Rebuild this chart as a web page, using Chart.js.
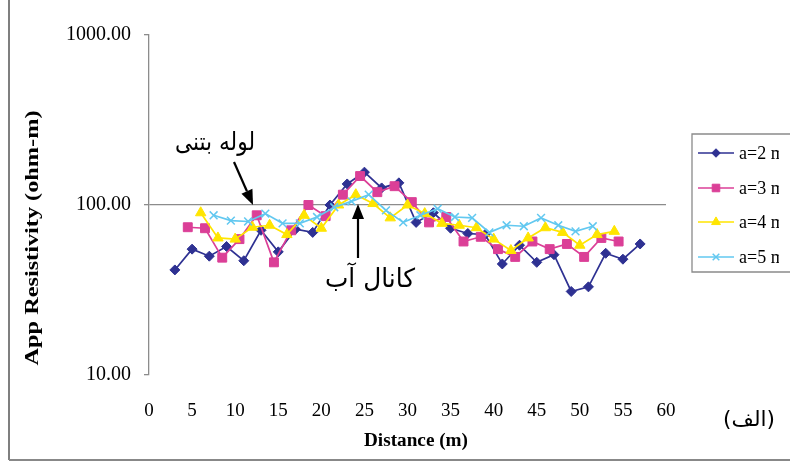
<!DOCTYPE html>
<html><head><meta charset="utf-8">
<script src="https://cdn.jsdelivr.net/npm/chart.js@4/dist/chart.umd.min.js"></script>
<style>html,body{margin:0;padding:0;background:#fff;overflow:hidden}#wrap{width:790px;height:465px;position:relative}</style>
</head><body><div id="wrap"><canvas id="c" width="790" height="465"></canvas></div>
<script>
// ---- data ----
const seriesNames = ['a=2 m', 'a=3 m', 'a=4 m', 'a=5 m'];
const xA2 = [3,5,7,9,11,13,15,17,19,21,23,25,27,29,31,33,35,37,39,41,43,45,47,49,51,53,55,57];
const yA2 = [41.5,55,50,57,47,71,53,72,69,100,133,156,126,135,79,90,73,68,67,45,58,46,51,31,33,52,48,59];
const xA3 = [4.5,6.5,8.5,10.5,12.5,14.5,16.5,18.5,20.5,22.5,24.5,26.5,28.5,30.5,32.5,34.5,36.5,38.5,40.5,42.5,44.5,46.5,48.5,50.5,52.5,54.5];
const yA3 = [74,73,49,63,87,46,71,100,86,115,148,119,129,104,79,85,61,65,55,49.5,61,55,59,49.5,64,61];
const xA4 = [6,8,10,12,14,16,18,20,22,24,26,28,30,32,34,36,38,40,42,44,46,48,50,52,54];
const yA4 = [90,64,63,74,76,67,87,73,100,115,102,84,100,89,78,76,73.5,63,54,64,73.5,69,58,67,70];
const xA5 = [7.5,9.5,11.5,13.5,15.5,17.5,19.5,21.5,23.5,25.5,27.5,29.5,31.5,33.5,35.5,37.5,39.5,41.5,43.5,45.5,47.5,49.5,51.5];
const yA5 = [87,81,80,89,78,78,85,97,105,115,93,79,87,95,85,84,69,76,75,84,76,70,75];
const yTickValues = [10, 100, 1000];
const xAxisTitle = 'Distance (m)';
const yAxisTitle = 'App Resistivity (ohm-m)';
const noteConcretePipe = 'لوله بتنی';
const noteWaterChannel = 'کانال آب';
const panelLabel = '(الف)';

const pts = (xs, ys) => xs.map((x, i) => ({x: x, y: ys[i]}));
const styles = [
  {color:'#2E3192', pointStyle:'rectRot', radius:5, bw:1},
  {color:'#DB3F97', pointStyle:'rect', radius:6.3, bw:1},
  {color:'#FFE500', pointStyle:'triangle', radius:6, bw:1},
  {color:'#62C8F0', pointStyle:'crossRot', radius:5.5, bw:1.5}
];
const seriesData = [pts(xA2,yA2), pts(xA3,yA3), pts(xA4,yA4), pts(xA5,yA5)];

const datasets = seriesData.map((d, i) => ({
  label: seriesNames[i],
  data: d,
  showLine: true,
  borderColor: styles[i].color,
  backgroundColor: styles[i].color,
  borderWidth: 1.7,
  pointStyle: styles[i].pointStyle,
  pointRadius: styles[i].radius,
  pointBorderWidth: styles[i].bw,
  pointBackgroundColor: styles[i].color,
  pointBorderColor: styles[i].color,
  order: 4 - i,
  tension: 0
}));

function arrow(ctx, x1, y1, x2, y2) {
  const ang = Math.atan2(y2 - y1, x2 - x1);
  const hl = 15, hw = 6;
  const bx = x2 - hl * Math.cos(ang), by = y2 - hl * Math.sin(ang);
  ctx.beginPath();
  ctx.moveTo(x1, y1); ctx.lineTo(bx, by);
  ctx.lineWidth = 2.2; ctx.strokeStyle = '#000'; ctx.stroke();
  ctx.beginPath();
  ctx.moveTo(x2, y2);
  ctx.lineTo(bx + hw * Math.sin(ang), by - hw * Math.cos(ang));
  ctx.lineTo(bx - hw * Math.sin(ang), by + hw * Math.cos(ang));
  ctx.closePath(); ctx.fillStyle = '#000'; ctx.fill();
}

function fitText(ctx, text, cx, cy, font, targetW, rot, dir) {
  ctx.save();
  ctx.font = font;
  if (dir) ctx.direction = dir;
  const w = ctx.measureText(text).width;
  ctx.translate(cx, cy);
  if (rot) ctx.rotate(rot);
  ctx.scale(targetW / w, 1);
  ctx.textAlign = 'center'; ctx.textBaseline = 'middle';
  ctx.fillStyle = '#000';
  ctx.fillText(text, 0, 0);
  ctx.restore();
}

const decor = {
  id: 'decor',
  afterDraw(chart) {
    const ctx = chart.ctx;
    ctx.save();
    // frame
    ctx.strokeStyle = '#555'; ctx.lineWidth = 1.5;
    ctx.beginPath(); ctx.moveTo(9, 0); ctx.lineTo(9, 460); ctx.stroke();
    ctx.strokeStyle = '#888'; ctx.lineWidth = 2;
    ctx.beginPath(); ctx.moveTo(9, 460); ctx.lineTo(790, 460); ctx.stroke();
    // axis titles
    fitText(ctx, yAxisTitle, 33, 238, 'bold 19px "Liberation Serif"', 255, -Math.PI / 2);
    fitText(ctx, xAxisTitle, 416, 441, 'bold 18px "Liberation Serif"', 104, 0);
    fitText(ctx, panelLabel, 749, 421, '21px "DejaVu Sans"', 52, 0, 'rtl');
    // annotations
    fitText(ctx, noteConcretePipe, 215, 143, '25px "DejaVu Sans"', 80, 0, 'rtl');
    fitText(ctx, noteWaterChannel, 370, 280, '26px "DejaVu Sans"', 90, 0, 'rtl');
    arrow(ctx, 234, 162, 253, 205);
    arrow(ctx, 358, 258, 358, 204);
    // legend
    ctx.strokeStyle = '#8a8a8a'; ctx.lineWidth = 1.3;
    ctx.beginPath(); ctx.moveTo(790, 134); ctx.lineTo(692, 134); ctx.lineTo(692, 272); ctx.lineTo(790, 272); ctx.stroke();
    const rows = [153, 188, 222, 257];
    ctx.save();
    ctx.beginPath(); ctx.rect(0, 0, 779, 465); ctx.clip();
    rows.forEach((ry, i) => {
      const s = styles[i];
      ctx.strokeStyle = s.color; ctx.fillStyle = s.color; ctx.lineWidth = 1.6;
      ctx.beginPath(); ctx.moveTo(698, ry); ctx.lineTo(734, ry); ctx.stroke();
      ctx.lineWidth = s.bw;
      Chart.helpers.drawPoint(ctx, {pointStyle: s.pointStyle, radius: s.radius * 0.85, rotation: 0, borderWidth: s.bw}, 716, ry);
      ctx.fillStyle = '#000';
      ctx.font = '18px "Liberation Serif"';
      ctx.textAlign = 'left'; ctx.textBaseline = 'middle';
      ctx.fillText(seriesNames[i], 739, ry + 1);
    });
    ctx.restore();
    ctx.restore();
  }
};

new Chart(document.getElementById('c'), {
  type: 'scatter',
  data: {datasets: datasets},
  options: {
    responsive: false,
    animation: false,
    layout: {padding: {left: 0, right: 124, top: 35, bottom: 0}},
    plugins: {legend: {display: false}, tooltip: {enabled: false}},
    scales: {
      x: {
        type: 'linear', min: 0, max: 60,
        ticks: {stepSize: 5, color: '#000', font: {family: 'Liberation Serif', size: 19}, padding: 25, maxRotation: 0},
        grid: {display: false, drawTicks: false},
        border: {display: false},
        afterFit(s) { s.height = 90; }
      },
      y: {
        type: 'logarithmic', min: 10, max: 1000,
        afterBuildTicks(s) { s.ticks = yTickValues.map(v => ({value: v})); },
        ticks: {color: '#000', font: {family: 'Liberation Serif', size: 20}, padding: 13, callback: v => Number(v).toFixed(2)},
        grid: {
          color: c => (c.tick && c.tick.value === 100) ? '#8c8c8c' : 'rgba(0,0,0,0)',
          tickColor: '#8c8c8c', tickLength: 5, lineWidth: 1.3
        },
        border: {display: true, color: '#8c8c8c', width: 1.3},
        afterFit(s) { s.width = 149; }
      }
    }
  },
  plugins: [decor]
});
</script></body></html>
